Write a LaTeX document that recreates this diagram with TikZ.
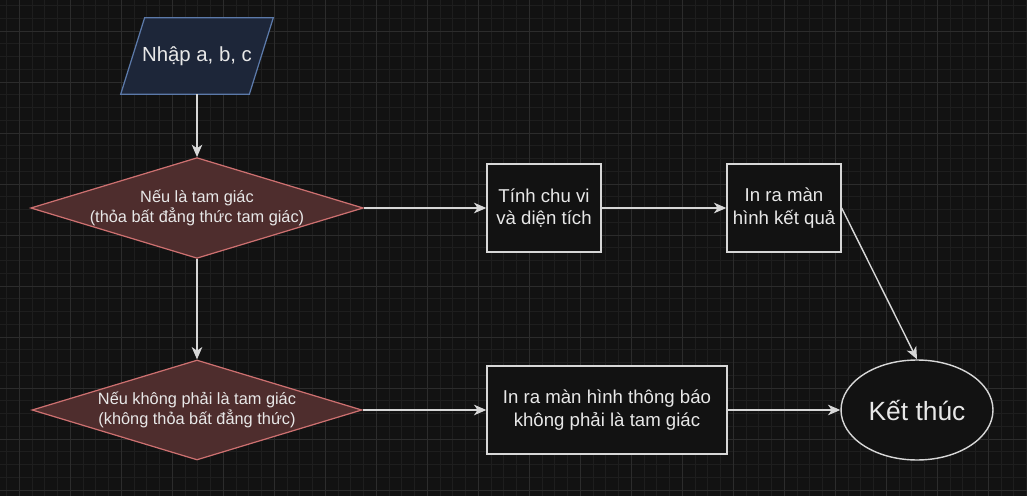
\documentclass[tikz,border=0pt]{standalone}
\usepackage{fontspec}
\setmainfont{Liberation Sans}
\usetikzlibrary{shapes.geometric, arrows.meta, calc}

\definecolor{bgdark}{RGB}{18,18,18}
\definecolor{gridminor}{RGB}{30,30,30}
\definecolor{gridmajor}{RGB}{44,44,44}
\definecolor{inputfill}{RGB}{29,38,57}
\definecolor{inputline}{RGB}{92,122,170}
\definecolor{condfill}{RGB}{78,45,45}
\definecolor{condline}{RGB}{205,112,112}
\definecolor{boxline}{RGB}{215,215,215}
\definecolor{textgrey}{RGB}{232,232,232}

\tikzset{
    inputbox/.style={rectangle, minimum width=3.04cm, minimum height=1.52cm,
        text=textgrey, inner sep=0pt, font=\fontsize{11.6}{14}\selectfont},
    condbox/.style={diamond, aspect=3.3, minimum width=6.6cm, minimum height=2cm,
        fill=condfill, draw=condline, line width=0.7pt, text=textgrey, inner sep=0pt,
        align=center, font=\fontsize{9.3}{11.3}\selectfont},
    stepbox/.style={rectangle, fill=bgdark, draw=boxline, line width=0.8pt,
        minimum height=1.76cm, text=textgrey, align=center, inner sep=0pt,
        font=\fontsize{10.6}{12.9}\selectfont},
    endbox/.style={ellipse, minimum width=3.04cm, minimum height=2cm, fill=bgdark,
        draw=boxline, line width=0.8pt, text=textgrey, inner sep=0pt,
        font=\fontsize{15}{18}\selectfont},
    flow/.style={draw=boxline, line width=0.8pt,
        -{Stealth[length=7pt, width=6pt, inset=2pt]}}
}

\begin{document}
\begin{tikzpicture}[x=0.02cm, y=-0.02cm]

    % background and grid
    \fill[bgdark] (0,0) rectangle (1027,496);
    \useasboundingbox (0,0) rectangle (1027,496);
    \foreach \i in {0,...,80} {
        \draw[gridminor, line width=0.5pt] ({6.55+12.75*\i},0) -- ({6.55+12.75*\i},496);
    }
    \foreach \j in {0,...,39} {
        \draw[gridminor, line width=0.5pt] (0,{5.5+12.75*\j}) -- (1027,{5.5+12.75*\j});
    }
    \foreach \i in {0,...,20} {
        \draw[gridmajor, line width=0.5pt] ({19.3+51*\i},0) -- ({19.3+51*\i},496);
    }
    \foreach \j in {0,...,9} {
        \draw[gridmajor, line width=0.5pt] (0,{31+51*\j}) -- (1027,{31+51*\j});
    }

    % input parallelogram
    \node[inputbox] (input) at (197,56) {};
    \filldraw[fill=inputfill, draw=inputline, line width=0.7pt]
        ($(input.north west)+(24,0)$) -- (input.north east)
        -- ($(input.south east)+(-24,0)$) -- (input.south west) -- cycle;
    \node[text=textgrey, font=\fontsize{11.6}{14}\selectfont] (inputtext) at (input) {Nhập a, b, c};

    % nodes
    \node[condbox] (istri) at (197,208) {Nếu là tam giác\\(thỏa bất đẳng thức tam giác)};
    \node[condbox] (nottri) at (197,410) {Nếu không phải là tam giác\\(không thỏa bất đẳng thức)};
    \node[stepbox, minimum width=2.28cm] (calc) at (544,208) {Tính chu vi\\và diện tích};
    \node[stepbox, minimum width=2.28cm] (result) at (784,208) {In ra màn\\hình kết quả};
    \node[stepbox, minimum width=4.8cm] (notice) at (607,410) {In ra màn hình thông báo\\không phải là tam giác};
    \node[endbox] (finish) at (917,410) {Kết thúc};

    % connectors
    \draw[flow] (input) -- (istri);
    \draw[flow] (istri) -- (nottri);
    \draw[flow] (istri) -- (calc);
    \draw[flow] (calc) -- (result);
    \draw[flow] (result.east) -- (finish.north);
    \draw[flow] (nottri) -- (notice);
    \draw[flow] (notice) -- (finish);

\end{tikzpicture}
\end{document}
